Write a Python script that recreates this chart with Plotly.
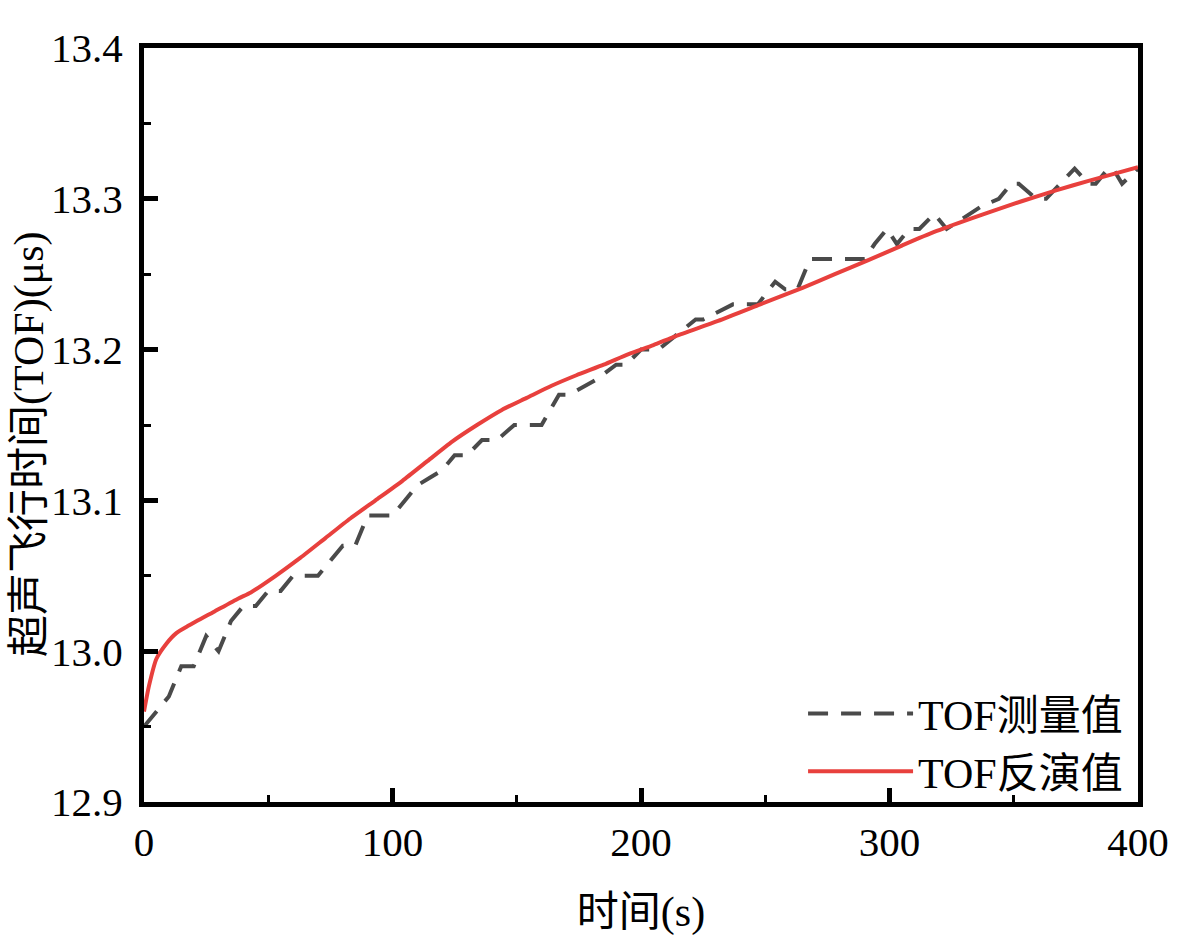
import plotly.graph_objects as go

# Measured TOF (dashed)
meas_t = [0, 5, 10, 15, 20, 25, 30, 35, 40, 45, 50, 55, 60, 65, 70, 75, 80, 85, 90, 95,
          100, 105, 110, 115, 120, 125, 130, 136, 142, 149, 160, 167, 171, 182, 190, 194,
          200, 207, 222, 225, 237, 247, 254, 258, 263, 268, 290, 294, 299, 303, 308, 312,
          318, 323, 332, 337, 344, 349, 352, 359, 363, 369, 374.5, 380, 383, 388, 390,
          393.6, 400]
meas_v = [12.95, 12.96, 12.97, 12.99, 12.99, 13.01, 13.00, 13.02, 13.03, 13.03, 13.04,
          13.04, 13.05, 13.05, 13.05, 13.06, 13.07, 13.07, 13.09, 13.09, 13.09, 13.10,
          13.11, 13.115, 13.12, 13.13, 13.13, 13.14, 13.14, 13.15, 13.15, 13.17, 13.17,
          13.18, 13.19, 13.19, 13.20, 13.20, 13.22, 13.22, 13.23, 13.23, 13.245, 13.24,
          13.24, 13.26, 13.26, 13.27, 13.28, 13.27, 13.28, 13.28, 13.29, 13.28, 13.29,
          13.295, 13.30, 13.31, 13.31, 13.30, 13.30, 13.31, 13.32, 13.31, 13.31, 13.32,
          13.32, 13.31, 13.32]

# Inverted TOF (solid red)
inv_t = [0, 2, 5, 9, 13, 18, 28, 38, 43, 53, 63, 73, 83, 94, 104, 114, 124, 134, 144,
         154, 164, 174, 185, 195, 205, 214, 231, 248, 265, 278, 291, 305, 318, 333, 347,
         360, 374, 387, 400]
inv_v = [12.96, 12.977, 12.995, 13.005, 13.012, 13.017, 13.026, 13.035, 13.039, 13.050,
         13.062, 13.075, 13.088, 13.101, 13.113, 13.126, 13.139, 13.150, 13.160, 13.168,
         13.176, 13.183, 13.190, 13.197, 13.203, 13.209, 13.219, 13.230, 13.241, 13.250,
         13.259, 13.269, 13.278, 13.287, 13.295, 13.302, 13.309, 13.315, 13.321]

x_ticks = [0, 100, 200, 300, 400]
y_ticks = [12.9, 13.0, 13.1, 13.2, 13.3, 13.4]
y_tick_text = ["12.9", "13.0", "13.1", "13.2", "13.3", "13.4"]

FONT = "Liberation Serif, Times New Roman, Noto Sans CJK SC, serif"

fig = go.Figure()
fig.add_trace(go.Scatter(x=meas_t, y=meas_v, mode="lines", name="TOF测量值",
                         line=dict(color="#4a4a4a", width=4, dash="20px,13px")))
fig.add_trace(go.Scatter(x=inv_t, y=inv_v, mode="lines", name="TOF反演值",
                         line=dict(color="#e8403d", width=4, shape="spline",
                                   smoothing=0.6)))

axis_common = dict(showline=True, linecolor="black", linewidth=5, mirror=True,
                   ticks="inside", tickcolor="black", tickwidth=5, ticklen=14,
                   showgrid=False, zeroline=False,
                   tickfont=dict(family=FONT, size=41, color="black"))

fig.update_xaxes(range=[0, 400], tickvals=x_ticks, ticklabelstandoff=0,
                 minor=dict(ticks="inside", ticklen=7, tickwidth=3, tickcolor="black",
                            dtick=50, showgrid=False),
                 title=dict(text="时间(s)", font=dict(family=FONT, size=42, color="black"),
                            standoff=34),
                 **axis_common)
fig.update_yaxes(range=[12.9, 13.4], tickvals=y_ticks, ticktext=y_tick_text,
                 ticklabelstandoff=8,
                 minor=dict(ticks="inside", ticklen=7, tickwidth=3, tickcolor="black",
                            dtick=0.05, tick0=12.9, showgrid=False),
                 **axis_common)

fig.add_annotation(text="超声飞行时间(TOF)(μs)", textangle=-90, showarrow=False,
                   xref="paper", yref="paper", x=-0.115, y=0.19,
                   xanchor="center", yanchor="bottom",
                   font=dict(family=FONT, size=42, color="black"))

fig.update_layout(
    width=1181, height=945,
    margin=dict(l=144, r=33, t=48, b=143),
    plot_bgcolor="white", paper_bgcolor="white",
    font=dict(family=FONT, size=42, color="black"),
    legend=dict(x=0.99, y=-0.005, xanchor="right", yanchor="bottom",
                bgcolor="rgba(0,0,0,0)", itemwidth=105,
                font=dict(family=FONT, size=42, color="black"),
                tracegroupgap=0),
)

fig.write_html("out.html")
